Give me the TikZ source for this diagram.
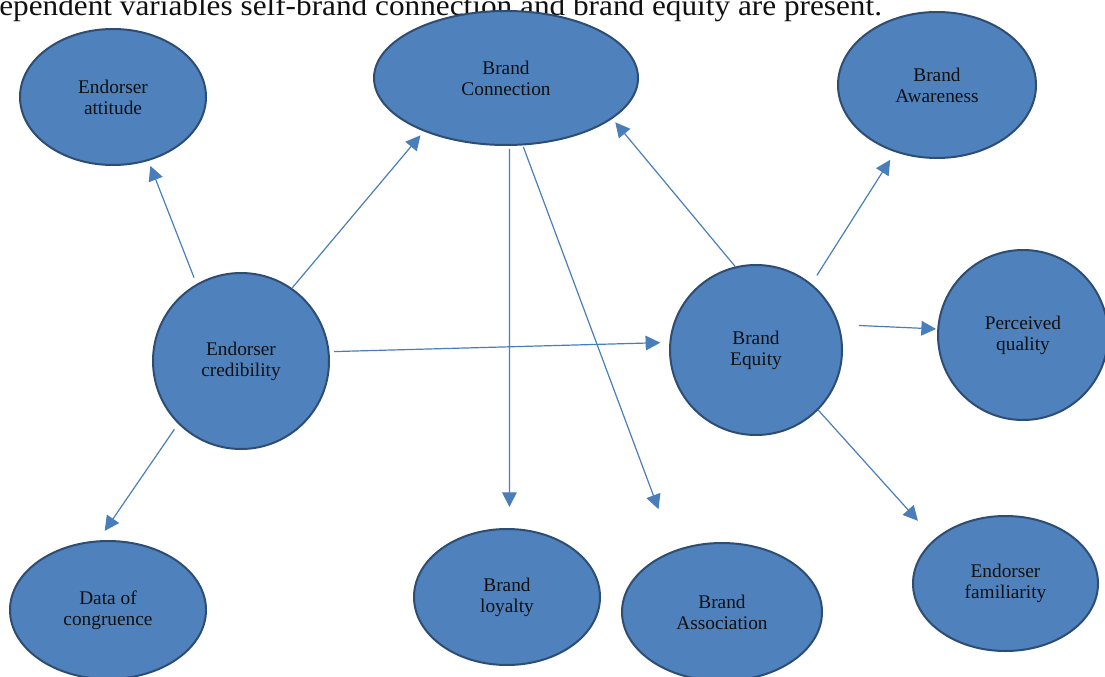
\documentclass[tikz,border=0pt]{standalone}
\usepackage{fontspec}
\setmainfont{Liberation Serif}
\usepackage{graphicx}
\usetikzlibrary{shapes.geometric,arrows.meta}
\definecolor{nodefill}{HTML}{4F81BD}
\definecolor{nodeline}{HTML}{2E4D73}
\definecolor{linkcol}{HTML}{4A7EBB}
\definecolor{txtcol}{HTML}{101010}
\tikzset{
  bubble/.style={ellipse, draw=nodeline, line width=1.5pt, fill=nodefill, inner sep=0pt,
    align=center, text=txtcol, font=\fontsize{14.5}{15.75}\selectfont},
  link/.style={draw=linkcol, line width=0.9pt, -{Triangle[length=11pt,width=11pt]}}
}
\begin{document}
\begin{tikzpicture}[x=0.75pt,y=-0.75pt]
\clip (0,0) rectangle (1105,677);
\path[use as bounding box] (0,0) rectangle (1105,677);
\fill[white] (0,0) rectangle (1105,677);

\node[anchor=base west, inner sep=0pt, text=txtcol] (caption) at (-1,15.5)
  {\resizebox{662pt}{\height}{\fontsize{22}{26}\selectfont ependent variables self-brand connection and brand equity are present.}};

\node[bubble, minimum width=139.5pt, minimum height=102pt] (att) at (113,97) {Endorser\\attitude};
\node[bubble, minimum width=198pt, minimum height=100.5pt] (conn) at (506,78) {Brand\\Connection};
\node[bubble, minimum width=148.5pt, minimum height=109.5pt] (aware) at (937,85) {Brand\\Awareness};
\node[bubble, minimum width=132pt, minimum height=132pt] (cred) at (241,361) {Endorser\\credibility};
\node[bubble, minimum width=129pt, minimum height=127.5pt] (equity) at (756,350) {Brand\\Equity};
\node[bubble, minimum width=127.5pt, minimum height=127.5pt] (perc) at (1023,335) {Perceived\\quality};
\node[bubble, minimum width=147pt, minimum height=103.5pt] (data) at (108,610) {Data of\\congruence};
\node[bubble, minimum width=139.5pt, minimum height=102pt] (loyal) at (507,597) {Brand\\loyalty};
\node[bubble, minimum width=150pt, minimum height=103.5pt] (assoc) at (722,612) {Brand\\Association};
\node[bubble, minimum width=138.75pt, minimum height=101.25pt] (fam) at (1005.5,583.5) {Endorser\\familiarity};

\draw[link, shorten <=5pt, shorten >=4pt] (cred.120.5) -- (att.-61);
\draw[link, shorten <=0.4pt, shorten >=3.8pt] (cred.55.6) -- (conn.213.3);
\draw[link, shorten <=3.4pt, shorten >=6.8pt] (cred.6.5) -- (equity.175.2);
\draw[link, shorten <=4.9pt, shorten >=8.6pt] (cred.225.6) -- (data.98.8);
\draw[link, shorten <=2.2pt, shorten >=15.8pt] (conn.-87.4) -- (loyal.88.3);
\draw[link, shorten <=1.2pt, shorten >=33pt] (conn.-76.1) -- (assoc.128.1);
\draw[link, shorten <=0pt, shorten >=3.4pt] (equity.104.4) -- (conn.-21.1);
\draw[link, shorten <=7.5pt, shorten >=6.8pt] (equity.50.6) -- (aware.238.2);
\draw[link, shorten <=15pt, shorten >=0.9pt] (equity.17.6) -- (perc.176);
\draw[link, shorten <=0.2pt, shorten >=18.4pt] (equity.-44) -- (fam.148.7);
\end{tikzpicture}
\end{document}
